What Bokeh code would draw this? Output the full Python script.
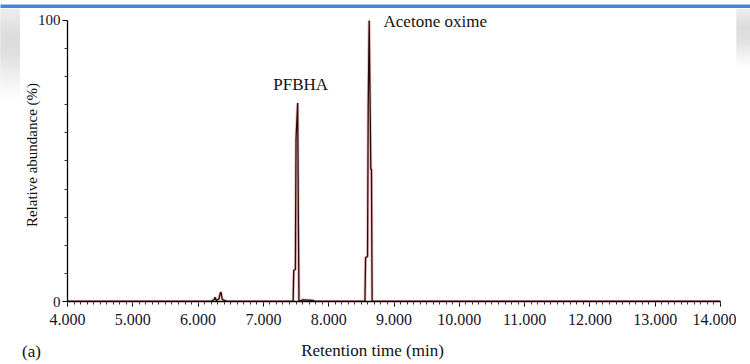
import numpy as np
from bokeh.plotting import figure
from bokeh.models import FixedTicker, Label, NumeralTickFormatter, Range1d
from bokeh.core.properties import value
from bokeh.layouts import column, row
from bokeh.embed import file_html
from bokeh.resources import INLINE

# Chromatogram trace: retention time (min) vs relative abundance (%)
rt = [4.00, 6.20, 6.25, 6.26, 6.28, 6.32, 6.34, 6.35, 6.37, 6.40, 6.45,
      7.455, 7.465, 7.49, 7.50, 7.525, 7.535, 7.545, 7.60, 7.75, 7.80,
      8.555, 8.565, 8.595, 8.605, 8.62, 8.645, 8.655, 8.665, 14.00]
abundance = [0, 0, 0.8, 1.5, 0.3, 1.0, 3.0, 3.3, 0.8, 0.4, 0,
             0, 11, 11.5, 58, 70.6, 30, 0, 0.6, 0.4, 0,
             0, 15.6, 16, 69, 100, 47, 47, 0, 0]

peak_names = ["PFBHA", "Acetone oxime"]
x_ticks = [4, 5, 6, 7, 8, 9, 10, 11, 12, 13, 14]
y_ticks = [0, 100]

SERIF = "Liberation Serif"
INK = "#15152a"


def blank(w, h, xr, yr, fill="white"):
    f = figure(width=w, height=h, min_border=0, toolbar_location=None,
               output_backend="svg", x_range=xr, y_range=yr)
    f.axis.visible = False
    f.grid.visible = False
    f.outline_line_color = None
    f.background_fill_color = fill
    f.border_fill_color = fill
    return f


# --- top window bar ---
bar = blank(750, 8, Range1d(0, 1), Range1d(0, 1), fill="#4a85d4")
bar.quad(left=[0], right=[1], top=[0.4], bottom=[0], color="#5f96dd")


def side_strip(w, h, fade):
    s = blank(w, h, Range1d(0, 1), Range1d(h, 0))
    ys = np.arange(0, fade, 2.0)
    g = np.interp(ys, [0, fade * 0.3, fade * 0.5, fade * 0.8, fade],
                  [238, 220, 224, 243, 255])
    cols = ["#%02x%02x%02x" % (int(v), int(v), int(v)) for v in g]
    s.quad(left=0, right=1, top=ys, bottom=ys + 2.2, color=cols)
    return s


left = side_strip(20, 326, 100)
right = side_strip(14, 326, 66)

# --- main chromatogram ---
p = figure(width=716, height=326, toolbar_location=None, output_backend="svg",
           x_range=Range1d(4, 14), y_range=Range1d(0, 104.27),
           min_border_left=47, min_border_right=16,
           min_border_top=0, min_border_bottom=33)
p.grid.visible = False
p.outline_line_color = None
p.background_fill_color = "white"
p.border_fill_color = "white"

p.line(rt, abundance, line_color="#c84848", line_width=3, line_alpha=0.35)
p.line(rt, abundance, line_color="#2a0a0a", line_width=1.3)

xa = p.xaxis[0]
xa.ticker = FixedTicker(ticks=x_ticks,
                        minor_ticks=[round(4 + 0.1 * i, 2) for i in range(101)])
xa.formatter = NumeralTickFormatter(format="0.000")
xa.bounds = (4, 14)

ya = p.yaxis[0]
ya.ticker = FixedTicker(ticks=y_ticks, minor_ticks=list(range(10, 100, 10)))
ya.bounds = (0, 100)
ya.axis_label = "Relative abundance (%)"
ya.axis_label_text_font = SERIF
ya.axis_label_text_font_style = "normal"
ya.axis_label_text_font_size = "15px"
ya.axis_label_text_color = "#111111"
ya.axis_label_standoff = -5

for ax in (xa, ya):
    ax.axis_line_color = "black"
    ax.axis_line_width = 1.3
    ax.major_tick_line_color = "black"
    ax.minor_tick_line_color = "#333333"
    ax.major_tick_out = 5
    ax.major_tick_in = 0
    ax.minor_tick_out = 3
    ax.minor_tick_in = 0
    ax.major_label_text_font = SERIF
    ax.major_label_text_font_size = "16px"
    ax.major_label_text_color = INK

xa.major_label_standoff = 7
ya.major_label_text_font_size = "15px"
ya.major_label_standoff = 2

label_kw = dict(text_font=SERIF, text_color="#111111")
p.add_layout(Label(x=7.57, y=77.2, text=peak_names[0], text_align="center",
                   text_baseline="alphabetic", text_font_size="17px", **label_kw))
p.add_layout(Label(x=8.84, y=99.6, text=peak_names[1], text_align="left",
                   text_baseline="alphabetic", text_font_size="17px", **label_kw))

# --- caption row beneath the axis: panel tag and x-axis title ---
cap = blank(750, 30, Range1d(0, 750), Range1d(30, 0))
cap.text(x=[31], y=[17], text=["(a)"], text_align="center", text_baseline="middle",
         text_font=value(SERIF), text_font_size="17px", text_color="#111111")
cap.text(x=[372], y=[16], text=["Retention time (min)"], text_align="center",
         text_baseline="middle", text_font=value(SERIF), text_font_size="17px",
         text_color="#111111")

layout = column(bar, row(left, p, right), cap)
open("out.html", "w").write(file_html(layout, INLINE))
